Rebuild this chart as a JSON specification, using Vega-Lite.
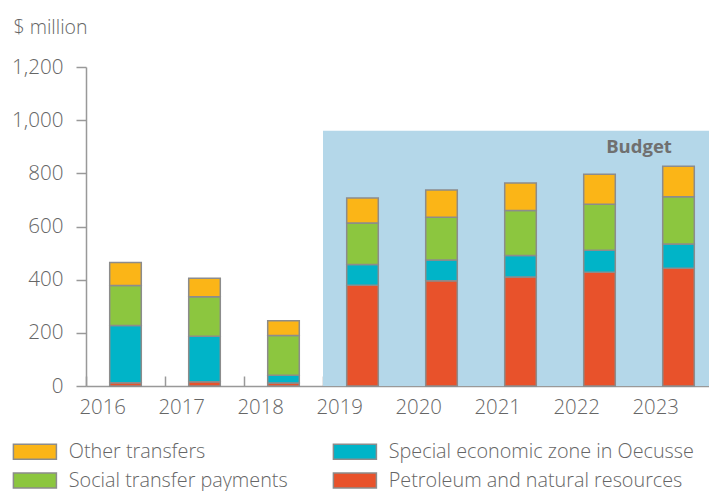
{
  "$schema": "https://vega.github.io/schema/vega-lite/v6.json",
  "width": 632,
  "height": 319,
  "autosize": "none",
  "padding": {"left": 86, "top": 67, "right": 0, "bottom": 105},
  "background": "#ffffff",
  "config": {
    "view": {"stroke": null},
    "font": "Open Sans",
    "axis": {
      "labelFont": "Open Sans", "labelFontSize": 20.4, "labelColor": "#666666", "labelFontWeight": 350,
      "domainColor": "#999999", "domainWidth": 1.5,
      "tickColor": "#999999", "tickWidth": 1.5,
      "grid": false
    },
    "legend": {
      "labelFont": "Open Sans", "labelFontSize": 19.8, "labelColor": "#666666", "labelFontWeight": 350
    }
  },
  "datasets": {
    "spend": [
      {"year": "2016", "category": "Petroleum and natural resources", "stack_order": 1, "value": 12},
      {"year": "2016", "category": "Special economic zone in Oecusse", "stack_order": 2, "value": 216},
      {"year": "2016", "category": "Social transfer payments", "stack_order": 3, "value": 150},
      {"year": "2016", "category": "Other transfers", "stack_order": 4, "value": 87},
      {"year": "2017", "category": "Petroleum and natural resources", "stack_order": 1, "value": 16},
      {"year": "2017", "category": "Special economic zone in Oecusse", "stack_order": 2, "value": 171},
      {"year": "2017", "category": "Social transfer payments", "stack_order": 3, "value": 149},
      {"year": "2017", "category": "Other transfers", "stack_order": 4, "value": 69},
      {"year": "2018", "category": "Petroleum and natural resources", "stack_order": 1, "value": 11},
      {"year": "2018", "category": "Special economic zone in Oecusse", "stack_order": 2, "value": 29},
      {"year": "2018", "category": "Social transfer payments", "stack_order": 3, "value": 150},
      {"year": "2018", "category": "Other transfers", "stack_order": 4, "value": 55},
      {"year": "2019", "category": "Petroleum and natural resources", "stack_order": 1, "value": 379},
      {"year": "2019", "category": "Special economic zone in Oecusse", "stack_order": 2, "value": 78},
      {"year": "2019", "category": "Social transfer payments", "stack_order": 3, "value": 156},
      {"year": "2019", "category": "Other transfers", "stack_order": 4, "value": 94},
      {"year": "2020", "category": "Petroleum and natural resources", "stack_order": 1, "value": 396},
      {"year": "2020", "category": "Special economic zone in Oecusse", "stack_order": 2, "value": 78},
      {"year": "2020", "category": "Social transfer payments", "stack_order": 3, "value": 161},
      {"year": "2020", "category": "Other transfers", "stack_order": 4, "value": 102},
      {"year": "2021", "category": "Petroleum and natural resources", "stack_order": 1, "value": 410},
      {"year": "2021", "category": "Special economic zone in Oecusse", "stack_order": 2, "value": 81},
      {"year": "2021", "category": "Social transfer payments", "stack_order": 3, "value": 169},
      {"year": "2021", "category": "Other transfers", "stack_order": 4, "value": 104},
      {"year": "2022", "category": "Petroleum and natural resources", "stack_order": 1, "value": 428},
      {"year": "2022", "category": "Special economic zone in Oecusse", "stack_order": 2, "value": 83},
      {"year": "2022", "category": "Social transfer payments", "stack_order": 3, "value": 173},
      {"year": "2022", "category": "Other transfers", "stack_order": 4, "value": 113},
      {"year": "2023", "category": "Petroleum and natural resources", "stack_order": 1, "value": 443},
      {"year": "2023", "category": "Special economic zone in Oecusse", "stack_order": 2, "value": 91},
      {"year": "2023", "category": "Social transfer payments", "stack_order": 3, "value": 178},
      {"year": "2023", "category": "Other transfers", "stack_order": 4, "value": 115}
    ],
    "budget": [
      {"year": "2019"}, {"year": "2020"}, {"year": "2021"}, {"year": "2022"}, {"year": "2023"}
    ],
    "note": [
      {"year": "2023", "label": "Budget"}
    ]
  },
  "layer": [
    {
      "data": {"name": "budget"},
      "mark": {"type": "bar", "color": "#b4d7e9", "width": {"band": 1}},
      "encoding": {
        "x": {"field": "year", "type": "nominal"},
        "y": {"datum": 960, "type": "quantitative"}
      }
    },
    {
      "data": {"name": "spend"},
      "mark": {"type": "bar", "width": {"band": 0.4}, "stroke": "#8c8c8c", "strokeWidth": 1.5},
      "encoding": {
        "x": {
          "field": "year", "type": "nominal",
          "scale": {"paddingInner": 0, "paddingOuter": 0},
          "axis": {
            "title": null, "labelAngle": 0, "tickBand": "extent",
            "tickSize": -10, "labelPadding": 31
          }
        },
        "y": {
          "field": "value", "type": "quantitative", "aggregate": "sum", "stack": "zero",
          "scale": {"domain": [0, 1200], "nice": false},
          "axis": {
            "title": "$ million", "titleAngle": 0, "titleX": -73, "titleY": -40,
            "titleAlign": "left", "titleBaseline": "middle",
            "titleFont": "Open Sans", "titleFontSize": 19.5, "titleFontWeight": 350, "titleColor": "#666666",
            "values": [0, 200, 400, 600, 800, 1000, 1200],
            "tickSize": 10, "labelPadding": 13, "format": ",.0f", "labelFontSize": 20.6
          }
        },
        "order": {"field": "stack_order", "type": "quantitative", "sort": "ascending"},
        "color": {
          "field": "category", "type": "nominal",
          "scale": {
            "domain": ["Petroleum and natural resources", "Special economic zone in Oecusse", "Social transfer payments", "Other transfers"],
            "range": ["#e8522b", "#00b4c8", "#8cc63f", "#fbb517"]
          },
          "legend": {
            "title": null,
            "orient": "none", "legendX": -61, "legendY": 374.5,
            "direction": "horizontal",
            "columns": 2,
            "values": ["Other transfers", "Special economic zone in Oecusse", "Social transfer payments", "Petroleum and natural resources"],
            "symbolType": "M-2.867,-1H2.867V1H-2.867Z",
            "symbolSize": 225,
            "symbolStrokeColor": "#8c8c8c",
            "symbolStrokeWidth": 1.5,
            "symbolOpacity": 1,
            "labelOffset": 24,
            "labelLimit": 400,
            "rowPadding": 7.2,
            "columnPadding": 42,
            "padding": 0
          }
        }
      }
    },
    {
      "data": {"name": "note"},
      "mark": {"type": "text", "font": "Open Sans", "fontSize": 18.5, "fontWeight": "bold", "color": "#707070", "align": "center", "baseline": "middle"},
      "encoding": {
        "x": {"field": "year", "type": "nominal", "bandPosition": 0},
        "y": {"datum": 899, "type": "quantitative"},
        "text": {"field": "label"}
      }
    }
  ]
}
